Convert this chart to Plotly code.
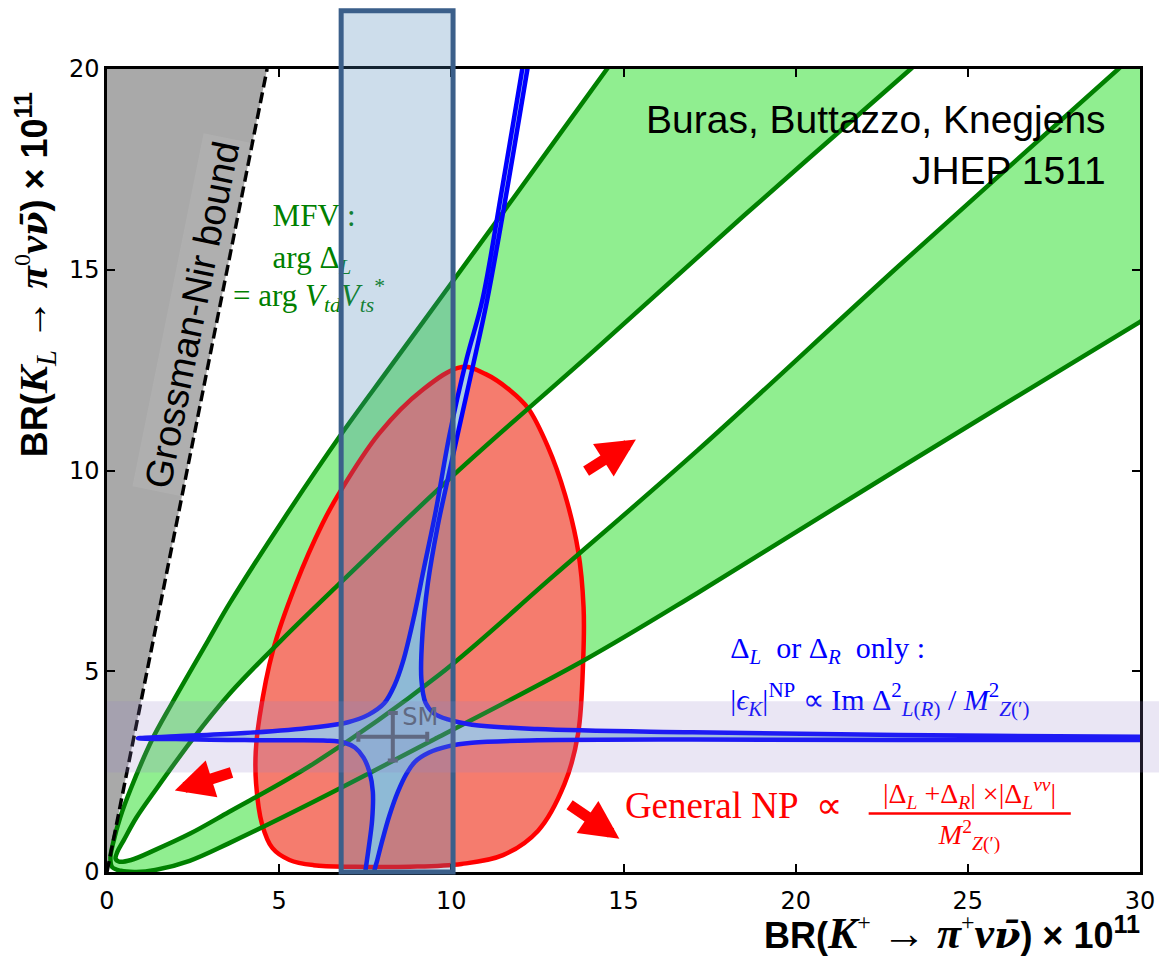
import plotly.graph_objects as go

# ---------------- axes ----------------
x_range = [0, 30]
y_range = [0, 20]
x_ticks = [0, 5, 10, 15, 20, 25, 30]
y_ticks = [0, 5, 10, 15, 20]

# ---------------- Grossman-Nir bound ----------------
gn_x = [0.0, 4.65]
gn_y = [0.0, 20.0]

# ---------------- MFV band (outer and inner parabola, ends run past the frame) ----------------
outer_x = [15.37, 14.52, 11.9, 9.64, 8.2, 6.75, 5.1, 3.56, 2.94, 1.88, 1.30, 0.67, 0.38, 0.2, 0.1,
           0.15, 0.4, 0.85, 1.4, 2.4, 3.55, 6.0, 9.63, 13.87, 17.15, 23.0, 30.0, 31.0]
outer_y = [21.0, 20.0, 16.9, 14.24, 12.55, 10.84, 8.75, 6.69, 5.77, 4.19, 3.28, 2.03, 1.35, 0.8, 0.35,
           0.12, 0.03, 0.0, 0.05, 0.28, 0.72, 1.75, 3.36, 5.28, 6.95, 10.05, 13.7, 14.2]
inner_x = [24.65, 23.34, 18.5, 14.16, 10.11, 6.75, 5.06, 3.56, 2.46, 1.40, 0.85, 0.48, 0.3, 0.25,
           0.35, 0.7, 1.4, 2.4, 3.55, 6.0, 9.63, 13.0, 17.15, 23.0, 29.37, 30.65]
inner_y = [21.0, 20.0, 16.35, 13.0, 9.92, 7.18, 5.77, 4.44, 3.28, 2.03, 1.35, 0.78, 0.5, 0.33,
           0.26, 0.3, 0.55, 0.95, 1.5, 2.7, 4.9, 7.4, 10.5, 15.1, 20.0, 21.0]

# ---------------- General NP region ----------------
np_x = [10.31, 11.0, 11.7, 12.23, 12.8, 13.3, 13.68, 13.84, 13.83, 13.68, 13.29, 12.52, 11.5,
        10.3, 8.8, 7.2, 6.0, 5.3, 4.8, 4.5, 4.33, 4.32, 4.43, 4.82, 5.49, 6.26, 6.74, 7.9,
        9.15, 10.31]
np_y = [12.58, 12.4, 12.0, 11.55, 10.6, 9.4, 8.01, 6.6, 5.3, 3.44, 2.2, 1.03, 0.42,
        0.2, 0.13, 0.13, 0.17, 0.3, 0.6, 1.2, 2.2, 3.0, 3.86, 5.52, 7.18, 8.68, 9.43, 10.92,
        12.0, 12.58]

# ---------------- Delta_L or Delta_R only (four branches, ends run past the frame) ----------------
ul_x = [0.9, 2.0, 4.0, 6.0, 7.0, 7.6, 8.05, 8.35, 8.6, 8.9, 9.2, 9.55, 9.95, 10.45, 10.9, 11.47, 12.06, 12.26]
ul_y = [3.33, 3.38, 3.46, 3.6, 3.73, 3.92, 4.2, 4.65, 5.25, 6.3, 7.55, 9.0, 10.9, 12.8, 14.24, 17.0, 20.0, 21.0]
ur_x = [12.41, 12.21, 11.62, 11.04, 10.6, 10.21, 9.9, 9.6, 9.32, 9.16, 9.13, 9.25, 9.5, 9.9, 10.6,
        12.5, 17.0, 23.0, 30.0, 31.0]
ur_y = [21.0, 20.0, 17.0, 14.24, 12.5, 11.0, 9.8, 8.6, 7.2, 5.9, 4.8, 4.22, 3.95, 3.8, 3.67,
        3.56, 3.48, 3.41, 3.37, 3.365]
lr_x = [31.0, 30.0, 23.0, 17.0, 12.5, 10.6, 9.9, 9.34, 8.95, 8.7, 8.45, 8.2, 8.0, 7.85, 7.76, 7.72]
lr_y = [3.29, 3.29, 3.29, 3.3, 3.28, 3.22, 3.13, 2.97, 2.75, 2.45, 2.0, 1.4, 0.8, 0.3, 0.0, -0.5]
ll_x = [7.42, 7.5, 7.6, 7.7, 7.72, 7.62, 7.45, 7.2, 6.9, 6.4, 5.0, 3.5, 2.0, 0.9]
ll_y = [-0.5, 0.0, 0.6, 1.3, 2.0, 2.5, 2.85, 3.1, 3.22, 3.27, 3.28, 3.29, 3.31, 3.33]

# ---------------- SM point ----------------
sm_x = [8.3]
sm_y = [3.37]
sm_ex = [1.0]
sm_ey = [0.59]

# ---------------- measurement regions ----------------
kp_band = [6.8, 10.05]          # vertical box in BR(K+)
kp_box_top = 21.45
kl_band = [2.48, 4.25]          # horizontal band in BR(KL)

# ---------------- arrows (tail -> tip) ----------------
arr_tail_x = [13.87, 13.39, 3.66]
arr_tail_y = [9.96, 1.70, 2.49]
arr_tip_x = [15.36, 14.88, 1.97]
arr_tip_y = [10.77, 0.83, 2.03]

SERIF = "Liberation Serif"
SANS = "Liberation Sans"

fig = go.Figure()

def add(tr):
    tr.update(hoverinfo="skip", showlegend=False)
    fig.add_trace(tr)

SPL = dict(shape="spline", smoothing=1.0)

# Grossman-Nir excluded region
add(go.Scatter(x=[gn_x[0], gn_x[1], x_range[0]], y=[gn_y[0], gn_y[1], y_range[1]],
               mode="lines", fill="toself", fillcolor="#a9a9a9", line=dict(width=0)))

# green MFV band fill
band_x = outer_x + [outer_x[-1]] + inner_x[::-1] + [outer_x[0]]
band_y = outer_y + [inner_y[-1]] + inner_y[::-1] + [outer_y[0]]
add(go.Scatter(x=band_x, y=band_y, mode="lines", fill="toself", fillcolor="#90ee90",
               line=dict(width=0, **SPL)))

# red general NP fill
add(go.Scatter(x=np_x, y=np_y, mode="lines", fill="toself", fillcolor="#f57c6e",
               line=dict(width=0, **SPL)))

# blue star fill
star_x = ul_x + ur_x + lr_x + ll_x
star_y = ul_y + ur_y + lr_y + ll_y
add(go.Scatter(x=star_x, y=star_y, mode="lines", fill="toself", fillcolor="#a9cfe2",
               line=dict(width=0, **SPL)))

# red outline
add(go.Scatter(x=np_x, y=np_y, mode="lines", line=dict(color="#ff0000", width=4.5, **SPL)))

# green lines
for cx, cy in [(outer_x, outer_y), (inner_x, inner_y)]:
    add(go.Scatter(x=cx, y=cy, mode="lines", line=dict(color="#008000", width=4.5, **SPL)))

# blue lines
add(go.Scatter(x=star_x, y=star_y, mode="lines", line=dict(color="#0000ff", width=4.5, **SPL)))

# GN dashed line
add(go.Scatter(x=gn_x, y=gn_y, mode="lines",
               line=dict(color="black", width=3.5, dash="11px,5px")))

# SM point
add(go.Scatter(x=sm_x, y=sm_y, mode="markers", marker=dict(size=1, color="#585858"),
               error_x=dict(type="data", array=sm_ex, thickness=4, width=5, color="#585858"),
               error_y=dict(type="data", array=sm_ey, thickness=4, width=5, color="#585858")))
add(go.Scatter(x=[9.1], y=[3.80], mode="text", text=["SM"], textposition="middle center",
               textfont=dict(family="DejaVu Sans", size=24, color="#585858")))

# MFV label
mfv_x = [4.81, 4.81, 3.66]
mfv_y = [16.29, 15.24, 14.30]
mfv_text = ["MFV :", "arg Δ<sub><i>L</i></sub>",
            "= arg <i>V</i><sub><i>td</i></sub><i>V</i><sub><i>ts</i></sub><sup>*</sup>"]
add(go.Scatter(x=mfv_x, y=mfv_y, mode="text", text=mfv_text, textposition="middle right",
               textfont=dict(family=SERIF, size=31, color="#008000")))

# blue label
nb = "\u00a0"
blue_x = [18.1, 18.1]
blue_y = [5.52, 4.22]
blue_text = ["Δ<sub><i>L</i></sub>" + nb + " or Δ<sub><i>R</i></sub>" + nb + " only :",
             "|<i>ϵ</i><sub><i>K</i></sub>|<sup>NP</sup> ∝ Im Δ<sup>2</sup><sub><i>L</i>(<i>R</i>)</sub> / <i>M</i><sup>2</sup><sub><i>Z</i>(′)</sub>"]
add(go.Scatter(x=blue_x, y=blue_y, mode="text", text=blue_text, textposition="middle right",
               textfont=dict(family=SERIF, size=30, color="#0000ff")))

# red label
add(go.Scatter(x=[15.04], y=[1.58], mode="text", text=["General NP " + nb + "∝"],
               textposition="middle right", textfont=dict(family=SERIF, size=37, color="#ff0000")))
frac_x = [22.12, 27.99]
frac_y = 1.46
add(go.Scatter(x=[25.05, 25.05], y=[1.90, 0.86], mode="text",
               text=["|Δ<sub><i>L</i></sub> +Δ<sub><i>R</i></sub>| ×|Δ<sub><i>L</i></sub><sup><i>νν</i></sup>|",
                     "<i>M</i><sup>2</sup><sub><i>Z</i>(′)</sub>"],
               textposition="middle center", textfont=dict(family=SERIF, size=28, color="#ff0000")))

shapes = [
    dict(type="line", xref="x", yref="y", x0=frac_x[0], x1=frac_x[1], y0=frac_y, y1=frac_y,
         line=dict(color="#ff0000", width=2.5), layer="above"),
    dict(type="rect", xref="x", yref="paper", x0=kp_band[0], x1=kp_band[1],
         y0=0, y1=kp_box_top / (y_range[1] - y_range[0]),
         fillcolor="rgba(70,130,180,0.27)", line=dict(color="#3b5f8a", width=5), layer="above"),
    dict(type="rect", xref="paper", yref="y", x0=0, x1=1.05, y0=kl_band[0], y1=kl_band[1],
         fillcolor="rgba(150,130,200,0.2)", line=dict(width=0), layer="above"),
]

def title_text(first_idx, second_sup, size):
    small = "<span style='font-size:%dpx'>%s</span>"
    bar_nu = "<span style='font-family:DejaVu Serif;font-size:%dpx'>ν\u0304</span>" % (size - 6)
    return ("<b>BR(</b><span style='font-family:Liberation Serif;font-size:%dpx'>" % size
            + "<b><i>K</i></b>" + first_idx + " → <b><i>π</i></b><sup>" + small % (24, second_sup) + "</sup>"
            + "<b><i>ν" + bar_nu + "</i></b></span><b>) × 10<sup>11</sup></b>")

x_title = title_text("<sup><span style='font-size:24px'>+</span></sup>", "+", 44)
y_title = title_text("<sub><i>L</i></sub>", "0", 41)

annotations = [
    dict(x=2.47, y=13.87, xref="x", yref="y", text="Grossman-Nir bound", showarrow=False,
         textangle=-78.6, font=dict(family=SANS, size=38, color="black"),
         bgcolor="rgba(255,255,255,0.08)", borderpad=3),
    dict(x=29.06, y=18.1, xref="x", yref="y", text="Buras, Buttazzo, Knegjens<br>JHEP 1511",
         showarrow=False, xanchor="right", yanchor="middle", align="right",
         font=dict(family=SANS, size=39, color="black")),
    dict(x=1.0017, y=-0.077, xref="paper", yref="paper", showarrow=False,
         xanchor="right", yanchor="middle", text=x_title,
         font=dict(family=SANS, size=36, color="black")),
    dict(x=-0.069, y=0.744, xref="paper", yref="paper", showarrow=False, textangle=-90,
         xanchor="center", yanchor="middle", text=y_title,
         font=dict(family=SANS, size=36, color="black")),
]
for tx, ty, hx, hy in zip(arr_tail_x, arr_tail_y, arr_tip_x, arr_tip_y):
    annotations.append(dict(x=hx, y=hy, ax=tx, ay=ty, xref="x", yref="y", axref="x", ayref="y",
                            text="", showarrow=True, arrowhead=2, arrowsize=0.7, arrowwidth=11,
                            arrowcolor="#ff0000", standoff=0, startstandoff=0))

axis_common = dict(ticks="inside", ticklen=8, tickwidth=1.5, tickcolor="black",
                   showline=True, linewidth=2.5, linecolor="black", mirror="ticks",
                   showgrid=False, zeroline=False,
                   tickfont=dict(family="DejaVu Sans", size=24, color="black"))

fig.update_layout(
    width=1159, height=961,
    margin=dict(l=99, r=22, t=61, b=97),
    plot_bgcolor="white", paper_bgcolor="white",
    showlegend=False,
    xaxis=dict(range=x_range, tickvals=x_ticks, ticklabelstandoff=5, **axis_common),
    yaxis=dict(range=y_range, tickvals=y_ticks, **axis_common),
    shapes=shapes,
    annotations=annotations,
)

fig.write_html("out.html")
